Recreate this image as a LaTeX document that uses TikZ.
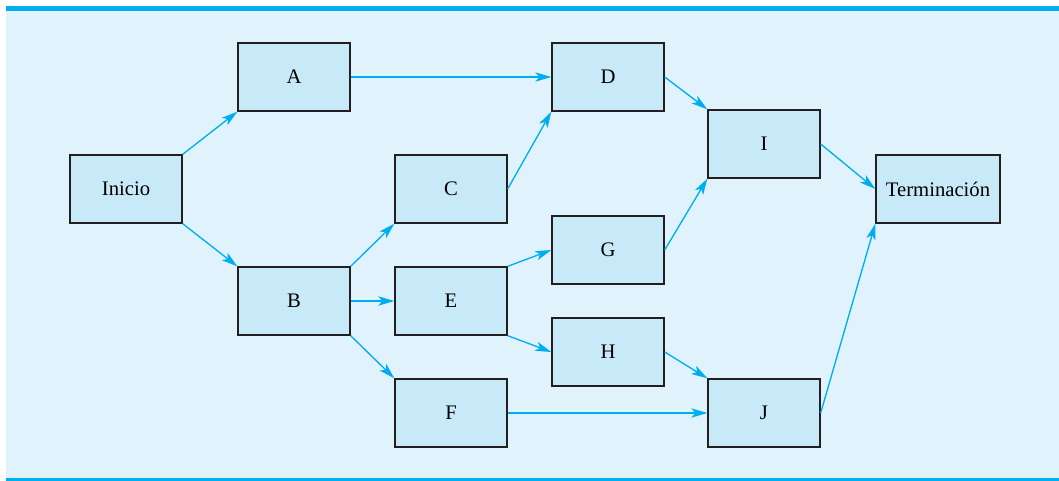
\documentclass[tikz,border=0pt]{standalone}
\usepackage{fontspec}
\setmainfont{Liberation Serif}
\usetikzlibrary{arrows.meta}
\definecolor{panel-blue}{HTML}{E0F2FC}
\definecolor{box-blue}{HTML}{C8E9F8}
\definecolor{arrow-cyan}{HTML}{00AEEF}
\definecolor{edge-dark}{HTML}{231F20}

\begin{document}
\begin{tikzpicture}[x=0.75pt, y=-0.75pt,
      every node/.style={font=\fontsize{15.5}{18}\selectfont},
      actbox/.style={draw=edge-dark, line width=1pt, fill=box-blue,
          minimum width=84pt, minimum height=51pt, inner sep=0pt},
      flow/.style={->, draw=arrow-cyan, line width=1pt},
      >={Stealth[length=12pt, width=7pt, inset=3pt]}]
    \useasboundingbox (0,0) rectangle (1059,481);
    \fill[panel-blue] (6,11) rectangle (1059,478);
    \fill[arrow-cyan] (6,6) rectangle (1059,11);
    \fill[arrow-cyan] (6,478) rectangle (1059,481);
    % activities
    \node[actbox] (inicio) at (126,189) {Inicio};
    \node[actbox] (A) at (294,77) {A};
    \node[actbox] (B) at (294,301) {B};
    \node[actbox] (C) at (451,189) {C};
    \node[actbox] (D) at (608,77) {D};
    \node[actbox] (E) at (451,301) {E};
    \node[actbox] (F) at (451,413) {F};
    \node[actbox] (G) at (608,250) {G};
    \node[actbox] (H) at (608,352) {H};
    \node[actbox] (I) at (764,144) {I};
    \node[actbox] (J) at (764,413) {J};
    \node[actbox, minimum width=93pt] (fin) at (938,189) {Terminación};
    % precedences
    \draw[flow] (inicio.north east) -- (A.south west);
    \draw[flow] (inicio.south east) -- (B.north west);
    \draw[flow] (A.east) -- (D.west);
    \draw[flow] (B.north east) -- (C.south west);
    \draw[flow] (B.east) -- (E.west);
    \draw[flow] (B.south east) -- (F.north west);
    \draw[flow] (C.east) -- (D.south west);
    \draw[flow] (D.east) -- (I.north west);
    \draw[flow] (E.north east) -- (G.west);
    \draw[flow] (E.south east) -- (H.west);
    \draw[flow] (G.east) -- (I.south west);
    \draw[flow] (H.east) -- (J.north west);
    \draw[flow] (F.east) -- (J.west);
    \draw[flow] (I.east) -- (fin.west);
    \draw[flow] (J.east) -- (fin.south west);
  \end{tikzpicture}
\end{document}
